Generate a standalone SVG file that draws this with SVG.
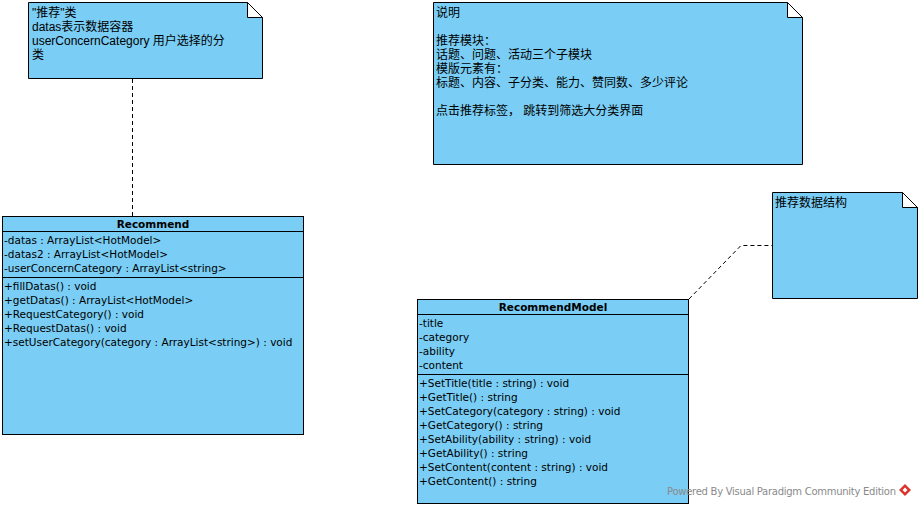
<svg xmlns="http://www.w3.org/2000/svg" width="922" height="508" viewBox="0 0 922 508">
<style>
.box{fill:#7ACDF4;stroke:#000;stroke-width:1}
.fold{fill:#fff;stroke:#000;stroke-width:1}
.t{font-family:"DejaVu Sans","Noto Sans CJK SC",sans-serif;font-size:10.5px;fill:#000}
.c{font-family:"Liberation Sans","Noto Sans CJK SC",sans-serif;font-size:12px;fill:#000}
.h{font-family:"DejaVu Sans",sans-serif;font-size:10.5px;font-weight:bold;fill:#000;text-anchor:middle}
.conn{fill:none;stroke:#000;stroke-width:1;stroke-dasharray:4,3}
.wm{font-family:"DejaVu Sans",sans-serif;font-size:10px;fill:#8a8a8a}
</style>
<rect width="922" height="508" fill="#fff"/>
<g id="connectors">
<path class="conn" d="M132.5,79 L132.5,217"/>
<path class="conn" d="M689,299 L741,245.5 L772,245.5"/>
</g>
<g id="note-recommend">
<path class="box" d="M28.5,2.5 H247.5 L262.5,17.5 V78.5 H28.5 Z"/>
<path class="fold" d="M247.5,2.5 V17.5 H262.5 Z"/>
<text class="c" x="32" y="17">"推荐"类</text>
<text class="c" x="32" y="31">datas表示数据容器</text>
<text class="c" x="32" y="45">userConcernCategory 用户选择的分</text>
<text class="c" x="32" y="59">类</text>
</g>
<g id="note-desc">
<path class="box" d="M433.5,2.5 H787.5 L802.5,17.5 V164.5 H433.5 Z"/>
<path class="fold" d="M787.5,2.5 V17.5 H802.5 Z"/>
<text class="c" x="436" y="17">说明</text>
<text class="c" x="436" y="45">推荐模块：</text>
<text class="c" x="436" y="59">话题、问题、活动三个子模块</text>
<text class="c" x="436" y="73">模版元素有：</text>
<text class="c" x="436" y="87">标题、内容、子分类、能力、赞同数、多少评论</text>
<text class="c" x="436" y="115">点击推荐标签， 跳转到筛选大分类界面</text>
</g>
<g id="note-model">
<path class="box" d="M772.5,192.5 H902.5 L917.5,207.5 V298.5 H772.5 Z"/>
<path class="fold" d="M902.5,192.5 V207.5 H917.5 Z"/>
<text class="c" x="775" y="207">推荐数据结构</text>
</g>
<g id="class-recommend">
<rect class="box" x="2.5" y="216.5" width="301" height="218"/>
<line x1="2.5" y1="231.5" x2="303.5" y2="231.5" stroke="#000"/>
<line x1="2.5" y1="277.5" x2="303.5" y2="277.5" stroke="#000"/>
<text class="h" x="153" y="228">Recommend</text>
<text class="t" x="4" y="244">-datas : ArrayList&lt;HotModel&gt;</text>
<text class="t" x="4" y="258">-datas2 : ArrayList&lt;HotModel&gt;</text>
<text class="t" x="4" y="272">-userConcernCategory : ArrayList&lt;string&gt;</text>
<text class="t" x="4" y="290">+fillDatas() : void</text>
<text class="t" x="4" y="304">+getDatas() : ArrayList&lt;HotModel&gt;</text>
<text class="t" x="4" y="318">+RequestCategory() : void</text>
<text class="t" x="4" y="332">+RequestDatas() : void</text>
<text class="t" x="4" y="346">+setUserCategory(category : ArrayList&lt;string&gt;) : void</text>
</g>
<g id="class-recommendmodel">
<rect class="box" x="417.5" y="299.5" width="271" height="204"/>
<line x1="417.5" y1="314.5" x2="688.5" y2="314.5" stroke="#000"/>
<line x1="417.5" y1="374.5" x2="688.5" y2="374.5" stroke="#000"/>
<text class="h" x="553" y="311">RecommendModel</text>
<text class="t" x="419" y="327">-title</text>
<text class="t" x="419" y="341">-category</text>
<text class="t" x="419" y="355">-ability</text>
<text class="t" x="419" y="369">-content</text>
<text class="t" x="419" y="387">+SetTitle(title : string) : void</text>
<text class="t" x="419" y="401">+GetTitle() : string</text>
<text class="t" x="419" y="415">+SetCategory(category : string) : void</text>
<text class="t" x="419" y="429">+GetCategory() : string</text>
<text class="t" x="419" y="443">+SetAbility(ability : string) : void</text>
<text class="t" x="419" y="457">+GetAbility() : string</text>
<text class="t" x="419" y="471">+SetContent(content : string) : void</text>
<text class="t" x="419" y="485">+GetContent() : string</text>
</g>
<g id="watermark">
<text class="wm" x="667" y="495" textLength="229">Powered By Visual Paradigm Community Edition</text>
<path d="M905,484 L911,490 L905,496 L899,490 Z" fill="#d9342b"/>
<path d="M902.5,490 L905,487.5 L907.5,490 L905,492.5 Z" fill="#fff"/>
</g>
</svg>
